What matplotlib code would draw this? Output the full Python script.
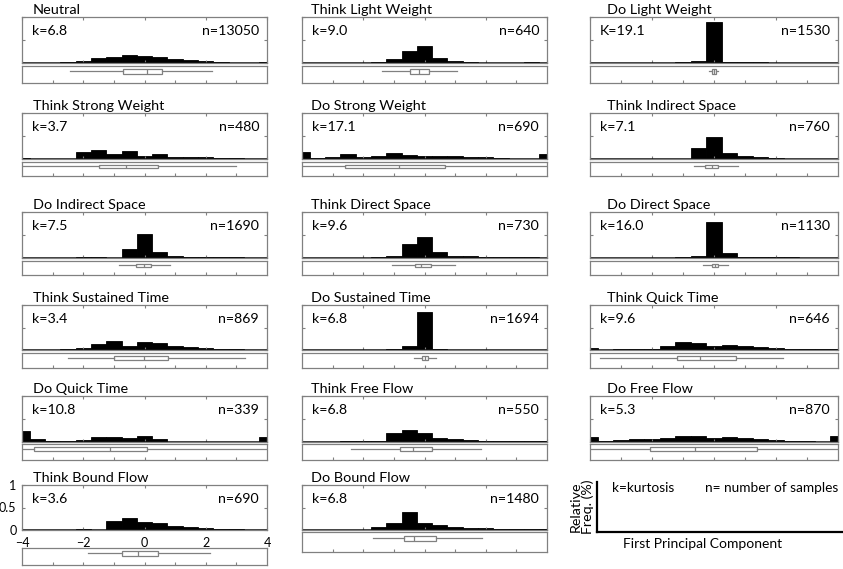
import matplotlib
matplotlib.use("Agg")
import matplotlib.pyplot as plt
import numpy as np

# ---------------- data ----------------
names = ["Neutral", "Think Light Weight", "Do Light Weight",
         "Think Strong Weight", "Do Strong Weight", "Think Indirect Space",
         "Do Indirect Space", "Think Direct Space", "Do Direct Space",
         "Think Sustained Time", "Do Sustained Time", "Think Quick Time",
         "Do Quick Time", "Think Free Flow", "Do Free Flow",
         "Think Bound Flow", "Do Bound Flow"]
k_labels = ["k=6.8", "k=9.0", "K=19.1", "k=3.7", "k=17.1", "k=7.1", "k=7.5",
            "k=9.6", "k=16.0", "k=3.4", "k=6.8", "k=9.6", "k=10.8", "k=6.8",
            "k=5.3", "k=3.6", "k=6.8"]
n_labels = ["n=13050", "n=640", "n=1530", "n=480", "n=690", "n=760", "n=1690",
            "n=730", "n=1130", "n=869", "n=1694", "n=646", "n=339", "n=550",
            "n=870", "n=690", "n=1480"]

bin_centers = np.arange(-4, 4.01, 0.5)

hist_neutral = [0, 0, 0.003, 0.015, 0.05, 0.11, 0.14, 0.17, 0.16, 0.12, 0.09, 0.06, 0.035, 0.015, 0.005, 0.003, 0.02]
hist_think_light_weight = [0, 0, 0, 0, 0, 0.015, 0.09, 0.27, 0.37, 0.10, 0.045, 0.015, 0.01, 0.01, 0.01, 0.02, 0]
hist_do_light_weight = [0, 0, 0, 0, 0, 0.008, 0.02, 0.035, 0.89, 0.02, 0.015, 0.015, 0.01, 0, 0, 0, 0]
hist_think_strong_weight = [0.03, 0, 0, 0, 0.155, 0.185, 0.11, 0.17, 0.06, 0.10, 0.045, 0.045, 0.035, 0.015, 0.015, 0, 0]
hist_do_strong_weight = [0.15, 0.015, 0.05, 0.11, 0.035, 0.07, 0.13, 0.09, 0.07, 0.07, 0.07, 0.045, 0.035, 0.015, 0.01, 0.01, 0.11]
hist_think_indirect_space = [0, 0, 0, 0, 0, 0, 0, 0.24, 0.48, 0.125, 0.075, 0.045, 0.025, 0, 0, 0, 0]
hist_do_indirect_space = [0, 0, 0, 0, 0.015, 0.03, 0.01, 0.2, 0.53, 0.12, 0.05, 0.03, 0.03, 0.015, 0.015, 0, 0]
hist_think_direct_space = [0, 0, 0, 0, 0, 0.02, 0.035, 0.3, 0.45, 0.12, 0.05, 0.035, 0.015, 0.015, 0.015, 0.015, 0]
hist_do_direct_space = [0, 0, 0, 0, 0, 0.008, 0.03, 0.05, 0.78, 0.11, 0.015, 0.012, 0.012, 0.012, 0.01, 0, 0]
hist_think_sustained_time = [0, 0, 0, 0.02, 0.035, 0.13, 0.21, 0.08, 0.17, 0.15, 0.09, 0.06, 0.035, 0.02, 0.02, 0.01, 0]
hist_do_sustained_time = [0, 0, 0, 0, 0, 0, 0.015, 0.095, 0.85, 0.02, 0, 0, 0, 0, 0, 0, 0]
hist_think_quick_time = [0.05, 0.01, 0.02, 0.02, 0.02, 0.095, 0.18, 0.145, 0.1, 0.12, 0.1, 0.07, 0.045, 0.015, 0.015, 0.015, 0.02]
hist_do_quick_time = [0.25, 0.07, 0.03, 0.03, 0.05, 0.11, 0.11, 0.085, 0.135, 0.065, 0.01, 0.01, 0.01, 0.01, 0.01, 0.01, 0.11]
hist_think_free_flow = [0, 0, 0, 0.015, 0.03, 0.02, 0.2, 0.26, 0.185, 0.09, 0.06, 0.045, 0.015, 0.015, 0.015, 0.015, 0.03]
hist_do_free_flow = [0.11, 0.015, 0.05, 0.065, 0.065, 0.08, 0.125, 0.125, 0.08, 0.1, 0.08, 0.065, 0.05, 0.02, 0.015, 0.01, 0.14]
hist_think_bound_flow = [0, 0, 0, 0, 0.015, 0.01, 0.21, 0.27, 0.185, 0.16, 0.09, 0.06, 0.04, 0.015, 0.015, 0, 0]
hist_do_bound_flow = [0, 0, 0, 0, 0, 0.075, 0.155, 0.41, 0.155, 0.105, 0.065, 0.05, 0.037, 0.025, 0.02, 0.015, 0.03]

hists = [hist_neutral, hist_think_light_weight, hist_do_light_weight,
         hist_think_strong_weight, hist_do_strong_weight, hist_think_indirect_space,
         hist_do_indirect_space, hist_think_direct_space, hist_do_direct_space,
         hist_think_sustained_time, hist_do_sustained_time, hist_think_quick_time,
         hist_do_quick_time, hist_think_free_flow, hist_do_free_flow,
         hist_think_bound_flow, hist_do_bound_flow]

# box stats: whisker low, q1, median, q3, whisker high
box_whislo = [-2.43, -1.40, -0.16, -4.3, -4.5, -0.66, -0.82, -1.05, -0.34, -2.49, -0.34, -3.68, -4.5, -2.39, -4.5, -1.86, -1.68]
box_q1     = [-0.69, -0.48, -0.07, -1.50, -2.58, -0.29, -0.27, -0.32, -0.07, -1.01, -0.07, -1.20, -3.61, -0.80, -2.06, -0.74, -0.67]
box_med    = [0.08, -0.17, 0.00, -0.60, -0.83, -0.07, -0.03, -0.12, 0.02, -0.03, 0.02, -0.45, -1.12, -0.36, -0.61, -0.22, -0.34]
box_q3     = [0.57, 0.15, 0.06, 0.44, 0.67, 0.14, 0.20, 0.20, 0.12, 0.78, 0.13, 0.70, 0.08, 0.26, 1.40, 0.43, 0.37]
box_whishi = [2.20, 1.05, 0.14, 3.00, 4.5, 0.79, 0.84, 1.00, 0.45, 3.27, 0.37, 2.24, 4.5, 1.83, 4.5, 2.15, 1.88]

hist_xticks = [-4, -2, 0, 2, 4]
hist_yticks = [0, 0.5, 1]
hist_yticklabels = ["0", "0.5", "1"]
box_xticks = [-3, -2, -1, 0, 1, 2, 3]

# ---------------- layout (pixels) ----------------
W, H = 843, 569
FONT = ["Lato", "DejaVu Sans"]
plt.rcParams['font.family'] = FONT
GRAY = "#808080"

col_left = [22, 302, 590]
col_right = [267, 547, 838]
title_off = [11, 9, 17]
hist_top = [17, 113, 212, 305, 396, 485]
hist_bot = [63, 159, 258, 350, 442, 530]
box_top = [66, 162, 261, 353, 444, 532]
box_bot = [83, 176, 275, 368, 460, 552]

fig = plt.figure(figsize=(W / 100, H / 100), dpi=100)


def rect(l, r, t, b):
    return [l / W, 1 - b / H, (r - l) / W, (b - t) / H]


def style_spines(ax):
    for s in ax.spines.values():
        s.set_color(GRAY)
        s.set_linewidth(0.9)


for i, name in enumerate(names):
    row, col = divmod(i, 3)
    l, r = col_left[col], col_right[col]
    axh = fig.add_axes(rect(l, r, hist_top[row], hist_bot[row]))
    axh.bar(bin_centers, hists[i], width=0.5, color="black", edgecolor="black",
            linewidth=0.6)
    axh.axhline(0, color="black", linewidth=1.8)
    axh.set_xlim(-4, 4)
    axh.set_ylim(0, 1)
    axh.set_xticks(hist_xticks)
    axh.set_yticks(hist_yticks)
    axh.tick_params(direction="in", length=2.5, width=0.8, color=GRAY,
                    top=True, right=True, labelsize=9)
    axh.tick_params(axis="x", pad=5)
    axh.tick_params(axis="y", pad=4)
    last = (i == 15)
    axh.tick_params(labelbottom=last, labelleft=last)
    if last:
        axh.set_yticklabels(hist_yticklabels)
    style_spines(axh)
    axh.text(title_off[col] / (r - l), 1.03, name, transform=axh.transAxes,
             ha="left", va="bottom", fontsize=10.4)
    axh.text(10 / (r - l), 0.69, k_labels[i], transform=axh.transAxes,
             ha="left", va="center", fontsize=10.2)
    axh.text(1 - 8 / (r - l), 0.69, n_labels[i], transform=axh.transAxes,
             ha="right", va="center", fontsize=10.2)

    bt, bb = box_top[row], box_bot[row]
    if last:
        bt, bb = 548, 565
    axb = fig.add_axes(rect(l, r, bt, bb))
    stats = [dict(whislo=box_whislo[i], q1=box_q1[i], med=box_med[i],
                  q3=box_q3[i], whishi=box_whishi[i])]
    axb.bxp(stats, positions=[0.68], widths=0.28, vert=False, showfliers=False,
            showcaps=False, patch_artist=True,
            boxprops=dict(facecolor="white", edgecolor=GRAY, linewidth=0.9),
            whiskerprops=dict(color=GRAY, linewidth=0.9),
            medianprops=dict(color=GRAY, linewidth=0.9))
    axb.set_xlim(-4, 4)
    axb.set_ylim(0, 1)
    axb.set_xticks(box_xticks)
    axb.set_yticks([])
    axb.tick_params(axis="x", direction="in", length=2.5, width=0.8, color=GRAY,
                    labelbottom=False)
    style_spines(axb)

# ---------------- legend panel ----------------
axl = fig.add_axes(rect(597, 843, 482, 532))
axl.set_xticks([])
axl.set_yticks([])
axl.spines["top"].set_visible(False)
axl.spines["right"].set_visible(False)
axl.spines["left"].set_linewidth(1.6)
axl.spines["bottom"].set_linewidth(1.6)
axl.patch.set_alpha(0)
axl.text(15 / 246, 0.88, "k=kurtosis", transform=axl.transAxes, ha="left",
         va="center", fontsize=9.8)
axl.text(108 / 246, 0.88, "n= number of samples", transform=axl.transAxes,
         ha="left", va="center", fontsize=9.8)
axl.set_ylabel("Relative\nFreq. (%)", fontsize=10.3, labelpad=2, linespacing=1.0)
axl.set_xlabel("First Principal Component", fontsize=10)
axl.xaxis.set_label_coords(106 / 246, -0.12)

fig.savefig("out.png", dpi=100, facecolor="white")
